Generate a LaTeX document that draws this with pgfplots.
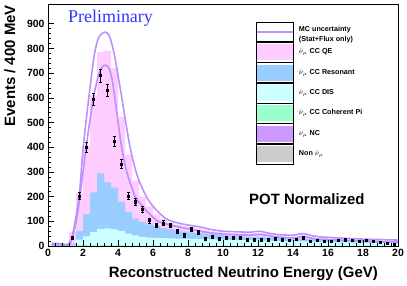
\documentclass[border=0pt]{standalone}
\usepackage{fontspec}
\setmainfont{Liberation Sans}
\newfontfamily\seriffont{Liberation Serif}
\usepackage{pgfplots}
\usepackage{pgfplotstable}
\pgfplotsset{compat=1.18}
\definecolor{pinkqe}{HTML}{FFCCFF}
\definecolor{blueres}{HTML}{99CCFF}
\definecolor{cyandis}{HTML}{CCFFFF}
\definecolor{greencoh}{HTML}{99FFCC}
\definecolor{purplenc}{HTML}{CC99FF}
\definecolor{graynon}{HTML}{CCCCCC}
\definecolor{mcline}{HTML}{BB90FF}
\definecolor{prelim}{HTML}{3333FF}

\pgfplotstableread{
x t r d c
0.0 0 0 0 0
0.4 0 0 0 0
0.8 3 0 0 0
1.2 57 10 3 1
1.6 214 60 26 4
2.0 406 129 39 5
2.4 612 217 57 5
2.8 785 294 68 4
3.2 791 258 71 4
3.6 721 236 67 3
4.0 524 179 60 3
4.4 370 138 50 2
4.8 265 111 43 2
5.2 200 98 37 2
5.6 160 88 34 2
6.0 128 80 33 2
6.4 108 72 32 1
6.8 95 67 31 1
7.2 87 62 30 1
7.6 81 58 30 1
8.0 76 55 29 1
8.4 71 52 28 1
8.8 65 50 28 1
9.2 59 47 27 1
9.6 56 44 26 1
10.0 54 42 26 1
10.4 52 40 25 1
10.8 51 39 24 1
11.2 51 38 24 1
11.6 52 37 23 1
12.0 52 36 22 1
12.4 47 35 22 1
12.8 43 34 21 1
13.2 40 32 20 1
13.6 38 31 20 1
14.0 39 30 19 1
14.4 43 30 19 1
14.8 38 28 18 1
15.2 34 27 17 1
15.6 31 26 17 1
16.0 29 24 16 1
16.4 28 23 15 1
16.8 26 22 15 1
17.2 25 21 14 1
17.6 24 20 14 1
18.0 24 20 13 1
18.4 23 19 13 1
18.8 22 18 12 1
19.2 20 17 12 1
19.6 19 16 11 1
20.0 19 16 11 1
}\mchist

\pgfplotstableread{
x y e
1.4 34 6
1.8 202 14
2.2 400 20
2.6 595 24
3.0 691 26
3.4 630 25
3.8 425 21
4.2 332 18
4.6 202 14
5.0 179 13
5.4 148 12
5.8 104 10
6.2 84 9
6.6 93 10
7.0 84 9
7.4 61 8
7.8 43 7
8.2 67 8
8.6 57 8
9.0 30 5.5
9.4 37 6
9.8 30 5.5
10.2 34 6
10.6 34 6
11.0 34 6
11.4 26 5
11.8 26 5
12.2 26 5
12.6 26 5
13.0 30 5.5
13.4 25 5
13.8 22 4.7
14.2 28 5.3
14.6 33 5.7
15.0 20 4.5
15.4 22 4.7
15.8 18 4.2
16.2 20 4.5
16.6 22 4.7
17.0 25 5
17.4 22 4.7
17.8 20 4.5
18.2 22 4.7
18.6 18 4.2
19.0 15 3.9
19.4 12 3.5
19.8 8 2.8
}\datatab

\begin{document}
\begin{tikzpicture}
\useasboundingbox (0,0) rectangle (407bp,286bp);
\begin{axis}[
  at={(48bp,40bp)}, anchor=south west,
  scale only axis, width=350bp, height=242bp,
  xmin=0, xmax=20, ymin=0, ymax=980,
  xtick={0,2,...,20}, ytick={0,100,...,900},
  minor x tick num=4, minor y tick num=4,
  tick pos=left, tick align=inside,
  major tick length=6bp, minor tick length=3bp,
  axis on top,
  axis line style={line width=0.8bp},
  tick style={black, line width=0.6bp},
  ticklabel style={font=\bfseries\fontsize{10.5}{12}\selectfont},
  /pgf/number format/assume math mode=true,
  legend cell align=left,
  legend style={draw=none, fill=none, at={(rel axis cs:0.5914,0.925)}, anchor=north west,
    inner sep=0pt, row sep=0pt, font=\bfseries\fontsize{7.2}{8.5}\selectfont,
    nodes={inner xsep=5bp, inner ysep=0pt}},
]
\addlegendimage{legend image code/.code={\draw[mcline, line width=1.8bp] (0bp,0bp) -- (37bp,0bp); \path (0bp,-9.5bp) rectangle (37bp,9.5bp);}}
\addlegendentry{\begin{tabular}{@{}l@{}}MC uncertainty\\[1.5bp](Stat+Flux only)\end{tabular}}
\addlegendimage{legend image code/.code={\fill[pinkqe] (0bp,-7.5bp) rectangle (37bp,7.5bp); \path (0bp,-10bp) rectangle (37bp,10bp);}}
\addlegendentry{$\bar{\nu}_{\mu}$ CC QE}
\addlegendimage{legend image code/.code={\fill[blueres] (0bp,-7.5bp) rectangle (37bp,7.5bp); \path (0bp,-10bp) rectangle (37bp,10bp);}}
\addlegendentry{$\bar{\nu}_{\mu}$ CC Resonant}
\addlegendimage{legend image code/.code={\fill[cyandis] (0bp,-7.5bp) rectangle (37bp,7.5bp); \path (0bp,-10bp) rectangle (37bp,10bp);}}
\addlegendentry{$\bar{\nu}_{\mu}$ CC DIS}
\addlegendimage{legend image code/.code={\fill[greencoh] (0bp,-7.5bp) rectangle (37bp,7.5bp); \path (0bp,-10bp) rectangle (37bp,10bp);}}
\addlegendentry{$\bar{\nu}_{\mu}$ CC Coherent Pi}
\addlegendimage{legend image code/.code={\fill[purplenc] (0bp,-7.5bp) rectangle (37bp,7.5bp); \path (0bp,-10bp) rectangle (37bp,10bp);}}
\addlegendentry{$\bar{\nu}_{\mu}$ NC}
\addlegendimage{legend image code/.code={\fill[graynon] (0bp,-7.5bp) rectangle (37bp,7.5bp); \path (0bp,-10bp) rectangle (37bp,10bp);}}
\addlegendentry{Non $\bar{\nu}_{\mu}$}

\addplot[const plot, fill=pinkqe, draw=none, forget plot] table[x=x, y=t] {\mchist} \closedcycle;
\addplot[const plot, fill=blueres, draw=none, forget plot] table[x=x, y=r] {\mchist} \closedcycle;
\addplot[const plot, fill=cyandis, draw=none, forget plot] table[x=x, y=d] {\mchist} \closedcycle;
\addplot[const plot, fill=greencoh, draw=none, forget plot] table[x=x, y=c] {\mchist} \closedcycle;

\addplot[mcline, line width=1.6bp, smooth, tension=0.5, forget plot] coordinates {
(0.2,10) (0.6,10) (1.0,6) (1.2,10) (1.4,45) (1.6,120) (1.8,215) (2.0,390) (2.2,520) (2.4,640) (2.65,775) (2.9,845) (3.25,866) (3.5,852) (3.77,782) (4.11,646) (4.4,520) (4.65,415) (4.9,335) (5.2,265) (5.7,190) (6.2,145) (6.8,108) (7.5,92) (8.1,84) (8.7,77) (9.3,67) (10,60) (11,57) (11.6,56) (12.1,60) (12.6,52) (13.2,46) (14,44) (14.6,50) (15.2,40) (16,35) (17,31) (18,28) (19,26) (20,24)};
\addplot[mcline, line width=1.6bp, smooth, tension=0.5, forget plot] coordinates {
(0.2,5) (0.6,5) (1.0,3) (1.2,6) (1.4,33) (1.6,95) (1.8,185) (2.0,300) (2.2,410) (2.4,510) (2.65,620) (2.9,695) (3.1,725) (3.3,732) (3.5,718) (3.7,660) (3.95,530) (4.2,405) (4.5,300) (4.97,202) (5.3,170) (5.6,145) (6.2,104) (6.8,88) (7.5,77) (8.1,68) (8.7,60) (9.3,53) (10,48) (11,45) (11.6,44) (12.1,47) (12.6,42) (13.2,36) (14,33) (14.6,38) (15.2,30) (16,26) (17,23) (18,21) (19,18) (20,16)};

\addplot[only marks, mark=square*, mark size=1.1bp, black, forget plot,
  error bars/.cd, y dir=both, y explicit,
  error bar style={line width=0.7bp, black},
  error mark options={rotate=90, mark size=1.2bp, line width=0.5bp, black}]
  table[x=x, y=y, y error=e] {\datatab};
\end{axis}
\node[font=\bfseries\fontsize{15}{18}\selectfont, anchor=base east, inner sep=0pt] at (378bp,9bp) {Reconstructed Neutrino Energy (GeV)};
\node[font=\bfseries\fontsize{15}{18}\selectfont, rotate=90, anchor=base east, inner sep=0pt] at (15bp,281bp) {Events / 400 MeV};
\node[font=\seriffont\fontsize{18}{20}\selectfont, text=prelim, anchor=base west, inner sep=0pt] at (68bp,263bp) {Preliminary};
\node[font=\bfseries\fontsize{15}{18}\selectfont, anchor=base west, inner sep=0pt] at (249bp,81bp) {POT Normalized};
\end{tikzpicture}
\end{document}
